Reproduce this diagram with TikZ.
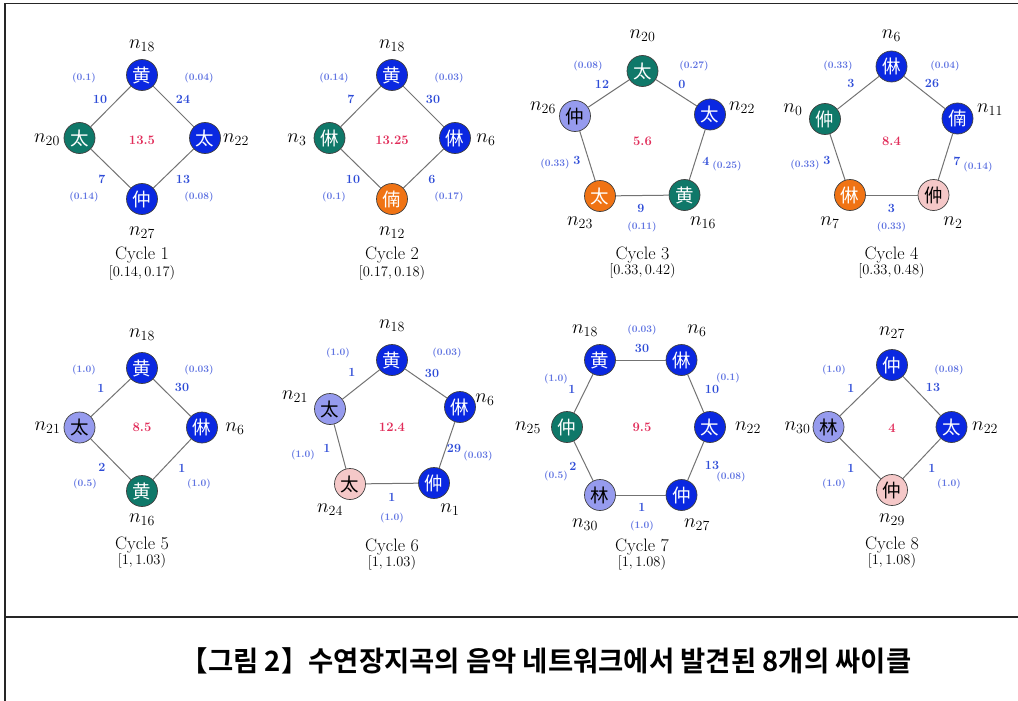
\RequirePackage{fix-cm}
\documentclass[tikz,border=0pt]{standalone}
\usepackage{fontspec}
\newfontfamily\cjk{Noto Sans CJK KR}
\newfontfamily\krb{Noto Sans CJK KR Bold}
\definecolor{nb}{RGB}{10,40,225}
\definecolor{nt}{RGB}{15,120,105}
\definecolor{nl}{RGB}{150,155,238}
\definecolor{no}{RGB}{240,115,20}
\definecolor{np}{RGB}{245,200,200}
\definecolor{wt}{RGB}{45,75,215}
\definecolor{pr}{RGB}{95,115,225}
\definecolor{cr}{RGB}{225,45,90}
\definecolor{eg}{RGB}{115,115,115}
\begin{document}
\begin{tikzpicture}[x=1pt,y=-1pt,
  v/.style={circle,draw=black!75,line width=0.7pt,minimum size=31pt,inner sep=0pt,font=\cjk\fontsize{18.5}{18.5}\selectfont},
  vb/.style={v,fill=nb,text=white},
  vt/.style={v,fill=nt,text=white},
  vl/.style={v,fill=nl,text=black},
  vo/.style={v,fill=no,text=white},
  vp/.style={v,fill=np,text=black},
  lab/.style={inner sep=0pt,font=\fontsize{20}{20}\selectfont},
  wgt/.style={inner sep=0pt,text=wt,font=\bfseries\fontsize{12.5}{12.5}\selectfont},
  prb/.style={inner sep=0pt,text=pr,font=\bfseries\fontsize{10}{10}\selectfont},
  ctr/.style={inner sep=0pt,text=cr,font=\bfseries\fontsize{13}{13}\selectfont},
  ttl/.style={inner sep=0pt,font=\fontsize{18}{18}\selectfont},
  rng/.style={inner sep=0pt,font=\fontsize{14.5}{14.5}\selectfont},
  edge/.style={draw=eg,line width=1pt},
  frame/.style={draw=black!85,line width=1.2pt}]
\useasboundingbox (0,0) rectangle (1018,701);
\draw[frame] (5,701) -- (5,3.5) -- (1018,3.5);
\draw[frame] (5,617) -- (1018,617);

% ---------- Cycle 1
\node[vb] (c1a) at (142,75) {黄};
\node[vt] (c1b) at (79.5,138) {太};
\node[vb] (c1c) at (205,138) {太};
\node[vb] (c1d) at (142,199) {仲};
\draw[edge] (c1a) -- (c1c); \draw[edge] (c1c) -- (c1d);
\draw[edge] (c1d) -- (c1b); \draw[edge] (c1b) -- (c1a);
\node[lab] (c1la) at (142,46) {$n_{18}$};
\node[lab] (c1lb) at (47,140) {$n_{20}$};
\node[lab] (c1lc) at (236,140) {$n_{22}$};
\node[lab] (c1ld) at (142,233) {$n_{27}$};
\node[ctr] (c1m) at (142,140) {13.5};
\node[wgt] (c1w1) at (100,99) {10};  \node[prb] (c1p1) at (84,78) {(0.1)};
\node[wgt] (c1w2) at (183,99) {24};  \node[prb] (c1p2) at (199,78) {(0.04)};
\node[wgt] (c1w3) at (102,179) {7};  \node[prb] (c1p3) at (84,197) {(0.14)};
\node[wgt] (c1w4) at (183,179) {13}; \node[prb] (c1p4) at (199,197) {(0.08)};
\node[ttl] (c1t) at (142,255) {Cycle 1};
\node[rng] (c1r) at (142,273) {$[0.14, 0.17)$};

% ---------- Cycle 2
\node[vb] (c2a) at (392,75) {黄};
\node[vt] (c2b) at (329.5,138) {㑣};
\node[vb] (c2c) at (455,138) {㑣};
\node[vo] (c2d) at (392,199) {㑲};
\draw[edge] (c2a) -- (c2c); \draw[edge] (c2c) -- (c2d);
\draw[edge] (c2d) -- (c2b); \draw[edge] (c2b) -- (c2a);
\node[lab] (c2la) at (392,46) {$n_{18}$};
\node[lab] (c2lb) at (297,140) {$n_{3}$};
\node[lab] (c2lc) at (486,140) {$n_{6}$};
\node[lab] (c2ld) at (392,233) {$n_{12}$};
\node[ctr] (c2m) at (392,140) {13.25};
\node[wgt] (c2w1) at (351,99) {7};   \node[prb] (c2p1) at (334,78) {(0.14)};
\node[wgt] (c2w2) at (433,99) {30};  \node[prb] (c2p2) at (449,78) {(0.03)};
\node[wgt] (c2w3) at (353,179) {10}; \node[prb] (c2p3) at (334,197) {(0.1)};
\node[wgt] (c2w4) at (432,179) {6};  \node[prb] (c2p4) at (449,197) {(0.17)};
\node[ttl] (c2t) at (392,255) {Cycle 2};
\node[rng] (c2r) at (392,273) {$[0.17, 0.18)$};

% ---------- Cycle 3
\node[vt] (c3a) at (642.5,71) {太};
\node[vb] (c3b) at (710,114.5) {太};
\node[vt] (c3c) at (684.5,195) {黄};
\node[vo] (c3d) at (600,196) {太};
\node[vl] (c3e) at (575,116) {仲};
\draw[edge] (c3a) -- (c3b); \draw[edge] (c3b) -- (c3c); \draw[edge] (c3c) -- (c3d);
\draw[edge] (c3d) -- (c3e); \draw[edge] (c3e) -- (c3a);
\node[lab] (c3la) at (642.5,36) {$n_{20}$};
\node[lab] (c3lb) at (742,108) {$n_{22}$};
\node[lab] (c3lc) at (703,223) {$n_{16}$};
\node[lab] (c3ld) at (580,223) {$n_{23}$};
\node[lab] (c3le) at (543,108) {$n_{26}$};
\node[ctr] (c3m) at (642.5,141) {5.6};
\node[wgt] (c3w1) at (602,84) {12};  \node[prb] (c3p1) at (588,66) {(0.08)};
\node[wgt] (c3w2) at (682,84) {0};   \node[prb] (c3p2) at (694,66) {(0.27)};
\node[wgt] (c3w3) at (706,161) {4};  \node[prb] (c3p3) at (727,166) {(0.25)};
\node[wgt] (c3w4) at (641,208) {9};  \node[prb] (c3p4) at (642,227) {(0.11)};
\node[wgt] (c3w5) at (577,160) {3};  \node[prb] (c3p5) at (555,164) {(0.33)};
\node[ttl] (c3t) at (642.5,255) {Cycle 3};
\node[rng] (c3r) at (642.5,271) {$[0.33, 0.42)$};

% ---------- Cycle 4
\node[vb] (c4a) at (891.5,66.5) {㑣};
\node[vb] (c4b) at (957.5,118.5) {㑲};
\node[vp] (c4c) at (933.5,195) {㑖};
\node[vo] (c4d) at (850,195) {㑣};
\node[vt] (c4e) at (825,119) {㑖};
\draw[edge] (c4a) -- (c4b); \draw[edge] (c4b) -- (c4c); \draw[edge] (c4c) -- (c4d);
\draw[edge] (c4d) -- (c4e); \draw[edge] (c4e) -- (c4a);
\node[lab] (c4la) at (891.5,36) {$n_{6}$};
\node[lab] (c4lb) at (990,110) {$n_{11}$};
\node[lab] (c4lc) at (953,223) {$n_{2}$};
\node[lab] (c4ld) at (830,223) {$n_{7}$};
\node[lab] (c4le) at (793,110) {$n_{0}$};
\node[ctr] (c4m) at (891.5,141) {8.4};
\node[wgt] (c4w1) at (851,83) {3};   \node[prb] (c4p1) at (838,66) {(0.33)};
\node[wgt] (c4w2) at (932,83) {26};  \node[prb] (c4p2) at (945,66) {(0.04)};
\node[wgt] (c4w3) at (957,161) {7};  \node[prb] (c4p3) at (978,167) {(0.14)};
\node[wgt] (c4w4) at (891.5,208) {3};\node[prb] (c4p4) at (891.5,227) {(0.33)};
\node[wgt] (c4w5) at (827,160) {3};  \node[prb] (c4p5) at (805,165) {(0.33)};
\node[ttl] (c4t) at (891.5,255) {Cycle 4};
\node[rng] (c4r) at (891.5,271) {$[0.33, 0.48)$};

% ---------- Cycle 5
\node[vb] (c5a) at (142,368) {黄};
\node[vl] (c5b) at (79.5,427.5) {太};
\node[vb] (c5c) at (202,427.5) {㑣};
\node[vt] (c5d) at (142,491) {黄};
\draw[edge] (c5a) -- (c5c); \draw[edge] (c5c) -- (c5d);
\draw[edge] (c5d) -- (c5b); \draw[edge] (c5b) -- (c5a);
\node[lab] (c5la) at (142,335) {$n_{18}$};
\node[lab] (c5lb) at (47.5,428) {$n_{21}$};
\node[lab] (c5lc) at (235,429) {$n_{6}$};
\node[lab] (c5ld) at (142,520) {$n_{16}$};
\node[ctr] (c5m) at (142,427) {8.5};
\node[wgt] (c5w1) at (101,388) {1};  \node[prb] (c5p1) at (84,370) {(1.0)};
\node[wgt] (c5w2) at (182,387) {30}; \node[prb] (c5p2) at (199,370) {(0.03)};
\node[wgt] (c5w3) at (102,467) {2};  \node[prb] (c5p3) at (85,484) {(0.5)};
\node[wgt] (c5w4) at (182,468) {1};  \node[prb] (c5p4) at (199,484) {(1.0)};
\node[ttl] (c5t) at (142,545) {Cycle 5};
\node[rng] (c5r) at (142,561) {$[1, 1.03)$};

% ---------- Cycle 6
\node[vb] (c6a) at (392,360) {黄};
\node[vb] (c6b) at (460,407) {㑣};
\node[vb] (c6c) at (434,483) {㑖};
\node[vp] (c6d) at (350,484) {太};
\node[vl] (c6e) at (330,409) {太};
\draw[edge] (c6a) -- (c6b); \draw[edge] (c6b) -- (c6c); \draw[edge] (c6c) -- (c6d);
\draw[edge] (c6d) -- (c6e); \draw[edge] (c6e) -- (c6a);
\node[lab] (c6la) at (392,326) {$n_{18}$};
\node[lab] (c6lb) at (485,400) {$n_{6}$};
\node[lab] (c6lc) at (450,510) {$n_{1}$};
\node[lab] (c6ld) at (330,510) {$n_{24}$};
\node[lab] (c6le) at (295,397) {$n_{21}$};
\node[ctr] (c6m) at (392,427) {12.4};
\node[wgt] (c6w1) at (352,372) {1};  \node[prb] (c6p1) at (338,353) {(1.0)};
\node[wgt] (c6w2) at (432,373) {30}; \node[prb] (c6p2) at (447,353) {(0.03)};
\node[wgt] (c6w3) at (454,448) {29}; \node[prb] (c6p3) at (478,456) {(0.03)};
\node[wgt] (c6w4) at (392,497) {1};  \node[prb] (c6p4) at (392,518) {(1.0)};
\node[wgt] (c6w5) at (327,448) {1};  \node[prb] (c6p5) at (303,455) {(1.0)};
\node[ttl] (c6t) at (392,547) {Cycle 6};
\node[rng] (c6r) at (392,563) {$[1, 1.03)$};

% ---------- Cycle 7
\node[vb] (c7a) at (600,360) {黄};
\node[vb] (c7b) at (681.5,360) {㑣};
\node[vb] (c7c) at (710,427) {太};
\node[vb] (c7d) at (681.5,495) {仲};
\node[vl] (c7e) at (600,495) {林};
\node[vt] (c7f) at (567,427) {仲};
\draw[edge] (c7a) -- (c7b); \draw[edge] (c7b) -- (c7c); \draw[edge] (c7c) -- (c7d);
\draw[edge] (c7d) -- (c7e); \draw[edge] (c7e) -- (c7f); \draw[edge] (c7f) -- (c7a);
\node[lab] (c7la) at (585,331) {$n_{18}$};
\node[lab] (c7lb) at (697,331) {$n_{6}$};
\node[lab] (c7lc) at (748,428) {$n_{22}$};
\node[lab] (c7ld) at (697,525) {$n_{27}$};
\node[lab] (c7le) at (585,525) {$n_{30}$};
\node[lab] (c7lf) at (528,428) {$n_{25}$};
\node[ctr] (c7m) at (642,427) {9.5};
\node[wgt] (c7w1) at (642,348) {30}; \node[prb] (c7p1) at (642,330) {(0.03)};
\node[wgt] (c7w2) at (712,389) {10}; \node[prb] (c7p2) at (728,378) {(0.1)};
\node[wgt] (c7w3) at (712,465) {13}; \node[prb] (c7p3) at (731,477) {(0.08)};
\node[wgt] (c7w4) at (642,507) {1};  \node[prb] (c7p4) at (642,526) {(1.0)};
\node[wgt] (c7w5) at (573,466) {2};  \node[prb] (c7p5) at (556,476) {(0.5)};
\node[wgt] (c7w6) at (572,389) {1};  \node[prb] (c7p6) at (556,379) {(1.0)};
\node[ttl] (c7t) at (642,547) {Cycle 7};
\node[rng] (c7r) at (642,563) {$[1, 1.08)$};

% ---------- Cycle 8
\node[vb] (c8a) at (892,365) {仲};
\node[vl] (c8b) at (828.5,427) {林};
\node[vb] (c8c) at (951.5,427) {太};
\node[vp] (c8d) at (892,490) {仲};
\draw[edge] (c8a) -- (c8c); \draw[edge] (c8c) -- (c8d);
\draw[edge] (c8d) -- (c8b); \draw[edge] (c8b) -- (c8a);
\node[lab] (c8la) at (892,333) {$n_{27}$};
\node[lab] (c8lb) at (797.5,428) {$n_{30}$};
\node[lab] (c8lc) at (985,428) {$n_{22}$};
\node[lab] (c8ld) at (892,520) {$n_{29}$};
\node[ctr] (c8m) at (892,428) {4};
\node[wgt] (c8w1) at (851,388) {1};  \node[prb] (c8p1) at (834,370) {(1.0)};
\node[wgt] (c8w2) at (933,387) {13}; \node[prb] (c8p2) at (949,370) {(0.08)};
\node[wgt] (c8w3) at (851,468) {1};  \node[prb] (c8p3) at (834,484) {(1.0)};
\node[wgt] (c8w4) at (932,468) {1};  \node[prb] (c8p4) at (949,484) {(1.0)};
\node[ttl] (c8t) at (892,545) {Cycle 8};
\node[rng] (c8r) at (892,561) {$[1, 1.08)$};

% ---------- caption
\node[inner sep=0pt,xscale=0.98,font=\krb\fontsize{28}{28}\selectfont] (cap) at (546,661)
  {【그림 2】수연장지곡의 음악 네트워크에서 발견된 8개의 싸이클};
\end{tikzpicture}
\end{document}
